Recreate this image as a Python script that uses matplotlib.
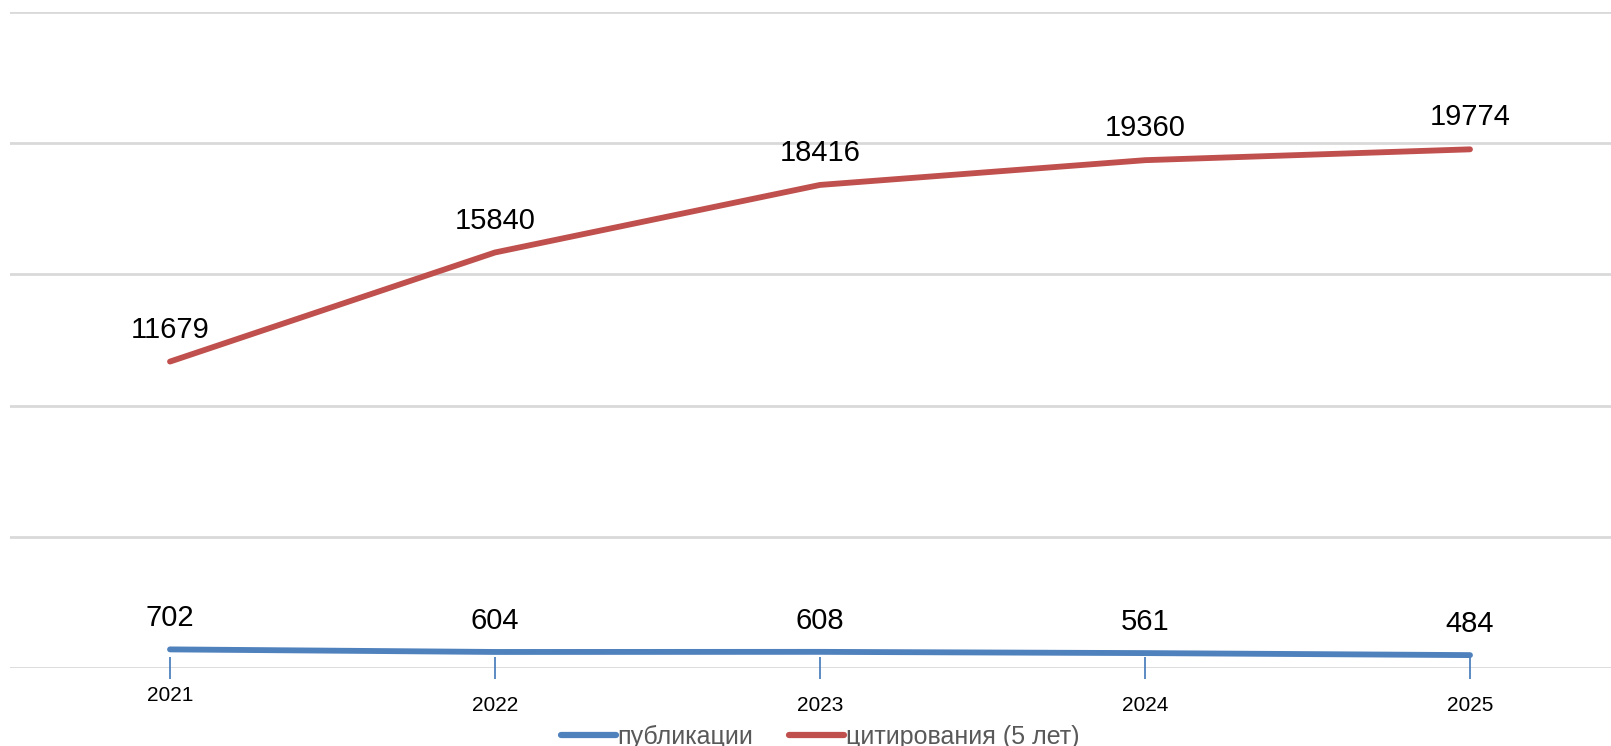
import matplotlib
matplotlib.use("Agg")
import matplotlib.pyplot as plt
import matplotlib.transforms as mtrans
from matplotlib import font_manager

years = ["2021", "2022", "2023", "2024", "2025"]
publications = [702, 604, 608, 561, 484]
citations = [11679, 15840, 18416, 19360, 19774]
series_names = ["публикации", "цитирования (5 лет)"]

BLUE = "#4F81BD"
RED = "#C0504D"
GRID = "#D9D9D9"

installed = {f.name for f in font_manager.fontManager.ttflist}
narrow = "Liberation Sans Narrow" if "Liberation Sans Narrow" in installed else "Liberation Sans"
plt.rcParams["font.family"] = ["Liberation Sans", "DejaVu Sans"]

fig = plt.figure(figsize=(16.11, 7.46), dpi=100)
ax = fig.add_axes([10 / 1611, 1 - 667.8 / 746, 1601 / 1611, (667.8 - 12.3) / 746])

x = list(range(len(years)))
ax.plot(x, publications, color=BLUE, lw=4.2, solid_capstyle="round", label=series_names[0], zorder=3)
ax.plot(x, citations, color=RED, lw=4.2, solid_capstyle="round", label=series_names[1], zorder=3)

for xi, v in zip(x, publications):
    ax.annotate(str(v), (xi, v), xytext=(0, 22.5), textcoords="offset points",
                ha="center", va="center", fontsize=21, color="black")
for xi, v in zip(x, citations):
    ax.annotate(str(v), (xi, v), xytext=(0, 23), textcoords="offset points",
                ha="center", va="center", fontsize=21, color="black")

ax.set_xlim(-160 / 325, (1611 - 170) / 325)
ax.set_ylim(0, 25000)
ax.set_yticks(range(0, 25001, 5000))
ax.yaxis.grid(True, color=GRID, lw=2)
ax.tick_params(axis="y", left=False, labelleft=False)
ax.set_axisbelow(True)
ax.xaxis.set_zorder(2.5)
for s in ax.spines.values():
    s.set_visible(False)

ax.set_xticks(x)
ax.set_xticklabels(years, fontsize=15)
ax.tick_params(axis="x", direction="inout", length=16, width=1.3, color=BLUE, pad=12)
# first year label sits a little higher
lab = ax.get_xticklabels()[0]
lab.set_transform(lab.get_transform() + mtrans.ScaledTranslation(0, 0.10, fig.dpi_scale_trans))

leg = fig.legend(loc="center", bbox_to_anchor=(0.509, 0.012), ncol=2, frameon=False,
                 handlelength=2.2, handletextpad=0.05, columnspacing=1.45,
                 prop={"family": narrow, "size": 18})
for t in leg.get_texts():
    t.set_color("#595959")
for h in leg.get_lines():
    h.set_linewidth(4.5)

fig.savefig("out.png", dpi=100)
